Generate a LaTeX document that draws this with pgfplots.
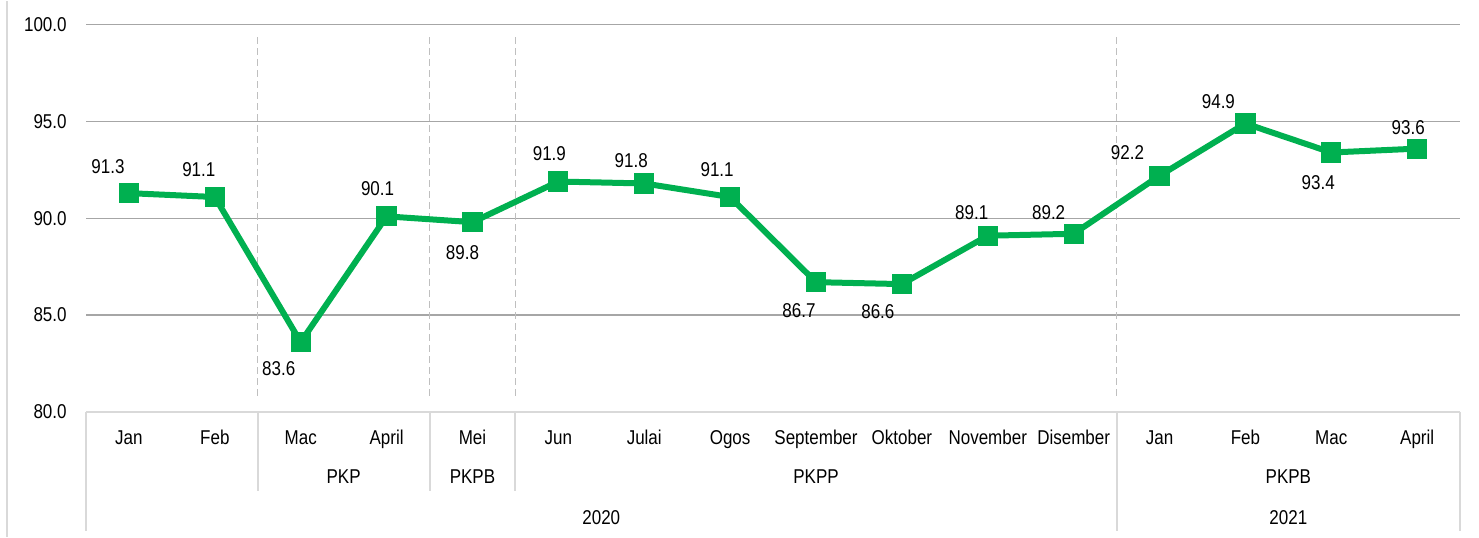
\documentclass[border=0pt]{standalone}
\usepackage{fontspec}
\setmainfont{Liberation Sans}[FakeStretch=0.85]
\usepackage{pgfplots}
\usepackage{pgfplotstable}
\pgfplotsset{compat=1.18}
\definecolor{lgreen}{HTML}{00B050}
\definecolor{gridgray}{HTML}{A6A6A6}
\definecolor{axgray}{HTML}{D9D9D9}
\definecolor{dashgray}{HTML}{BFBFBF}
\pgfplotstableread{
x y lab dx dy
0 91.3 91.3 -10.5 13.5
1 91.1 91.1 -8 13.5
2 83.6 83.6 -11 -13
3 90.1 90.1 -4.5 14
4 89.8 89.8 -5 -15
5 91.9 91.9 -4.5 14
6 91.8 91.8 -6.5 11.5
7 91.1 91.1 -6.5 13.5
8 86.7 86.7 -8.5 -14
9 86.6 86.6 -12 -14
10 89.1 89.1 -8 11.5
11 89.2 89.2 -12.5 10.5
12 92.2 92.2 -16 11.5
13 94.9 94.9 -13.5 11
14 93.4 93.4 -6.5 -15
15 93.6 93.6 -4.5 10.5
}\datatable
\begin{document}
\begin{tikzpicture}
\begin{axis}[
  scale only axis, width=687pt, height=193.5pt,
  xmin=-0.5, xmax=15.5, ymin=80, ymax=100,
  ytick={80,85,90,95,100},
  xtick={0,...,15},
  xticklabels={Jan,Feb,Mac,April,Mei,Jun,Julai,Ogos,September,Oktober,November,Disember,Jan,Feb,Mac,April},
  xticklabel style={anchor=base, yshift=-16.5pt, inner sep=0pt},
  yticklabel style={inner sep=0pt, xshift=-9.5pt,
    /pgf/number format/fixed, /pgf/number format/fixed zerofill,
    /pgf/number format/precision=1, /pgf/number format/assume math mode=true},
  axis line style={draw=none},
  major tick length=0pt,
  ymajorgrids, grid style={color=gridgray, line width=0.7pt},
  clip=false,
]
% bounding box
\path (axis cs:-1.5015,73.54) rectangle (axis cs:15.72,101.24);
% left chart border
\draw[axgray, line width=0.8pt] (axis cs:-1.42,73.54) -- (axis cs:-1.42,101.24);
% dashed phase separators
\foreach \xx in {1.5,3.5,4.5,11.5}{
  \edef\tmp{\noexpand\draw[dashgray, line width=0.6pt, dash pattern=on 3.5pt off 2pt] (axis cs:\xx,80.83) -- (axis cs:\xx,99.43);}
  \tmp
}
% category axis
\draw[axgray, line width=1pt] (axis cs:-0.5,80) -- (axis cs:15.5,80);
\draw[axgray, line width=1pt] (axis cs:-0.5,80) -- (axis cs:-0.5,73.85);
\draw[axgray, line width=1pt] (axis cs:11.5,80) -- (axis cs:11.5,73.85);
\draw[axgray, line width=1pt] (axis cs:15.5,80) -- (axis cs:15.5,73.85);
\draw[axgray, line width=1pt] (axis cs:1.5,80) -- (axis cs:1.5,75.92);
\draw[axgray, line width=1pt] (axis cs:3.5,80) -- (axis cs:3.5,75.92);
\draw[axgray, line width=1pt] (axis cs:4.5,80) -- (axis cs:4.5,75.92);
% group labels
\node[anchor=base, inner sep=0pt] at (axis cs:2.5,76.28) {PKP};
\node[anchor=base, inner sep=0pt] at (axis cs:4,76.28) {PKPB};
\node[anchor=base, inner sep=0pt] at (axis cs:8,76.28) {PKPP};
\node[anchor=base, inner sep=0pt] at (axis cs:13.5,76.28) {PKPB};
\node[anchor=base, inner sep=0pt] at (axis cs:5.5,74.16) {2020};
\node[anchor=base, inner sep=0pt] at (axis cs:13.5,74.16) {2021};
% data
\addplot[lgreen, line width=3pt, mark=square*, mark size=4.8pt,
  mark options={solid, line width=0.5pt, fill=lgreen},
  nodes near coords, point meta=explicit symbolic,
  visualization depends on={\thisrow{dx}\as\dx},
  visualization depends on={\thisrow{dy}\as\dy},
  every node near coord/.append style={anchor=center, inner sep=0pt, text=black,
     xshift=\dx pt, yshift=\dy pt},
] table[x=x, y=y, meta=lab] {\datatable};
\end{axis}
\end{tikzpicture}
\end{document}
